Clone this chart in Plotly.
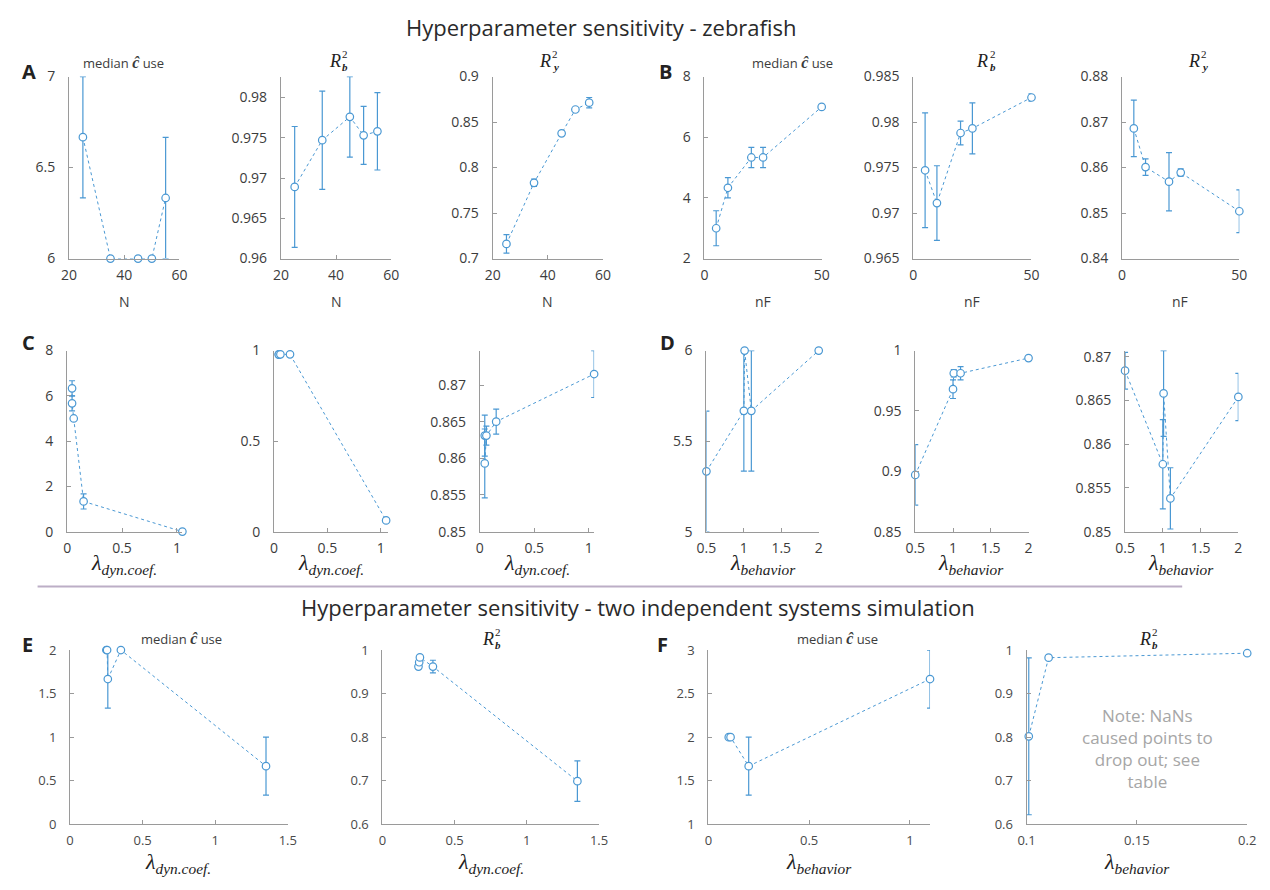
import plotly.graph_objects as go

W, H = 1270, 890
BLUE = "#4a98d3"
AXC = "#9a9a9a"
TXT = "#3c3c3c"
SANS = "Open Sans"
SERIF = "Liberation Serif"

# ---------------- zebrafish: N sweep ----------------
N = [25, 35, 45, 50, 55]
A_c = [6.667, 6.0, 6.0, 6.0, 6.333]
A_c_err = [0.333, 0.0, 0.0, 0.0, 0.333]
A_rb = [0.9689, 0.9747, 0.9776, 0.9753, 0.9758]
A_rb_err = [0.0075, 0.0061, 0.0050, 0.0036, 0.0048]
A_ry = [0.7161, 0.7832, 0.8376, 0.8638, 0.8713]
A_ry_err = [0.0102, 0.0040, 0.0020, 0.0015, 0.0057]

# ---------------- zebrafish: nF sweep ----------------
nF = [5, 10, 20, 25, 50]
B_c = [3.0, 4.333, 5.333, 5.333, 7.0]
B_c_err = [0.577, 0.333, 0.333, 0.333, 0.0]
B_rb = [0.9747, 0.9711, 0.9788, 0.9793, 0.9827]
B_rb_err = [0.0063, 0.0041, 0.0013, 0.0028, 0.0004]
B_ry = [0.8686, 0.8601, 0.8569, 0.8589, 0.8504]
B_ry_err = [0.0062, 0.0018, 0.0064, 0.0008, 0.0047]

# ---------------- zebrafish: lambda_dyn.coef sweep ----------------
lam_dyn = [0.045, 0.045, 0.06, 0.15, 1.05]
C_c = [6.333, 5.667, 5.0, 1.333, 0.0]
C_c_err = [0.333, 0.333, 0.0, 0.333, 0.0]
C_rb = [0.979, 0.978, 0.979, 0.979, 0.062]
C_rb_err = [0.003, 0.003, 0.003, 0.003, 0.003]
C_ry = [0.8631, 0.8593, 0.8631, 0.8650, 0.8715]
C_ry_err = [0.0028, 0.0047, 0.0013, 0.0017, 0.0032]

# ---------------- zebrafish: lambda_behavior sweep ----------------
lam_beh = [0.5, 1.0, 1.01, 1.1, 2.0]
D_c = [5.333, 5.667, 6.0, 5.667, 6.0]
D_c_err = [0.333, 0.333, 0.0, 0.333, 0.0]
D_rb = [0.897, 0.968, 0.9812, 0.9812, 0.9938]
D_rb_err = [0.025, 0.0077, 0.003, 0.0055, 0.0005]
D_ry = [0.8684, 0.8577, 0.8658, 0.8538, 0.8654]
D_ry_err = [0.0021, 0.0051, 0.0049, 0.0035, 0.0027]

# ---------------- simulation: lambda_dyn.coef sweep ----------------
lam_dyn_sim = [0.25, 0.255, 0.26, 0.35, 1.35]
E_c = [2.0, 2.0, 1.667, 2.0, 0.667]
E_c_err = [0.0, 0.0, 0.333, 0.0, 0.333]
E_rb = [0.962, 0.972, 0.983, 0.962, 0.699]
E_rb_err = [0.004, 0.004, 0.003, 0.0146, 0.0465]

# ---------------- simulation: lambda_behavior sweep ----------------
lam_beh_sim = [0.101, 0.11, 0.2, 1.1]
F_c = [2.0, 2.0, 1.667, 2.667]
F_c_err = [0.0, 0.0, 0.333, 0.333]
F_rb = [0.8018, 0.9824, 0.9927, None]
F_rb_err = [0.18, 0.003, 0.002, None]


def fmt(v):
    return ("%g" % v)


def frange(a, b, s):
    out, v = [], a
    while v <= b + 1e-9:
        out.append(round(v, 6))
        v += s
    return out


fig = go.Figure()
annotations = []


def ann(text, x, y, size, color=TXT, family=SANS, xanchor="center", yanchor="middle"):
    annotations.append(dict(text=text, x=x / W, y=1 - y / H, xref="paper", yref="paper",
                            showarrow=False, xanchor=xanchor, yanchor=yanchor,
                            font=dict(family=family, size=size, color=color)))


def panel(i, x, y, err, px, py, xr, xt, yr, yt, fs=14, tcol=TXT):
    xa = "x" if i == 1 else "x%d" % i
    ya = "y" if i == 1 else "y%d" % i
    fig.add_trace(go.Scatter(
        x=x, y=y, xaxis=xa, yaxis=ya, mode="lines+markers", cliponaxis=False,
        line=dict(color=BLUE, width=1, dash="dot"),
        marker=dict(symbol="circle", size=7.5, color="white", line=dict(color=BLUE, width=1.2)),
        error_y=dict(type="data", array=err, color=BLUE, thickness=1.2, width=3),
        connectgaps=False, showlegend=False, hoverinfo="x+y"))
    common = dict(showline=True, linecolor=AXC, linewidth=1, ticks="inside", ticklen=4,
                  tickcolor=AXC, showgrid=False, zeroline=False,
                  tickfont=dict(family=SANS, size=fs, color=tcol))
    fig.layout["xaxis%d" % i] = dict(domain=[px[0] / W, px[1] / W], range=xr, anchor=ya,
                                     tickvals=xt, ticktext=[fmt(v) for v in xt],
                                     ticklabelstandoff=4, **common)
    fig.layout["yaxis%d" % i] = dict(domain=[1 - py[1] / H, 1 - py[0] / H], range=yr, anchor=xa,
                                     tickvals=yt, ticktext=[fmt(v) for v in yt],
                                     ticklabelstandoff=10, **common)


rowA = (68, 254)
rowC = (348, 533)
rowE = (654, 832)

# row A / B
panel(1, N, A_c, A_c_err, (60, 172), rowA, [20, 60], [20, 40, 60], [6, 7], [6, 6.5, 7])
panel(2, N, A_rb, A_rb_err, (275, 387), rowA, [20, 60], [20, 40, 60], [0.96, 0.9826],
      frange(0.96, 0.98, 0.005))
panel(3, N, A_ry, A_ry_err, (490, 602), rowA, [20, 60], [20, 40, 60], [0.7, 0.9],
      frange(0.7, 0.9, 0.05))
panel(4, nF, B_c, B_c_err, (705, 824), rowA, [0, 50], [0, 50], [2, 8], [2, 4, 6, 8])
panel(5, nF, B_rb, B_rb_err, (917, 1037), rowA, [0, 50], [0, 50], [0.965, 0.985],
      frange(0.965, 0.985, 0.005))
panel(6, nF, B_ry, B_ry_err, (1129, 1248), rowA, [0, 50], [0, 50], [0.84, 0.88],
      frange(0.84, 0.88, 0.01))

# row C / D
panel(7, lam_dyn, C_c, C_c_err, (58, 175), rowC, [0, 1.05], [0, 0.5, 1], [0, 8], [0, 2, 4, 6, 8])
panel(8, lam_dyn, C_rb, C_rb_err, (268, 384), rowC, [0, 1.07], [0, 0.5, 1], [0, 1], [0, 0.5, 1])
panel(9, lam_dyn, C_ry, C_ry_err, (477, 593), rowC, [0, 1.05], [0, 0.5, 1], [0.85, 0.8747],
      frange(0.85, 0.87, 0.005))
panel(10, lam_beh, D_c, D_c_err, (707, 821), rowC, [0.5, 2], [0.5, 1, 1.5, 2], [5, 6], [5, 5.5, 6])
panel(11, lam_beh, D_rb, D_rb_err, (919, 1034), rowC, [0.5, 2], [0.5, 1, 1.5, 2], [0.85, 1],
      [0.85, 0.9, 0.95, 1])
panel(12, lam_beh, D_ry, D_ry_err, (1132, 1247), rowC, [0.5, 2], [0.5, 1, 1.5, 2], [0.85, 0.8707],
      frange(0.85, 0.87, 0.005))

# row E / F
ES = 13
EC = "#4a4a4a"
panel(13, lam_dyn_sim, E_c, E_c_err, (61, 282), rowE, [0, 1.5], [0, 0.5, 1, 1.5], [0, 2],
      frange(0, 2, 0.5), ES, EC)
panel(14, lam_dyn_sim, E_rb, E_rb_err, (378, 598), rowE, [0, 1.5], [0, 0.5, 1, 1.5], [0.6, 1],
      frange(0.6, 1, 0.1), ES, EC)
panel(15, lam_beh_sim, F_c, F_c_err, (709, 934), rowE, [0, 1.1], [0, 0.5, 1], [1, 3],
      frange(1, 3, 0.5), ES, EC)
panel(16, lam_beh_sim, F_rb, F_rb_err, (1032, 1256), rowE, [0.1, 0.2], [0.1, 0.15, 0.2], [0.6, 1],
      frange(0.6, 1, 0.1), ES, EC)

# section titles
ann("Hyperparameter sensitivity - zebrafish", 600, 17, 22, "#2a2a2a")
ann("Hyperparameter sensitivity - two independent systems simulation", 638, 610, 22, "#2a2a2a")

# panel letters
for letter, lx, ly in [("A", 19, 63), ("B", 665, 63), ("C", 19, 340), ("D", 667, 340),
                       ("E", 18, 648), ("F", 662, 648)]:
    ann("<b>%s</b>" % letter, lx, ly, 20, "#222222")

CHAT = "median <span style='font-family:%s;font-size:16px'><b><i>ĉ</i></b></span> use" % SERIF


def r2(xc, yc, sub):
    ann("<i>R</i>", xc - 5, yc, 18, "#222222", SERIF)
    ann("2", xc + 0.5, yc - 7, 11, "#222222", SERIF, xanchor="left")
    ann("<b><i>%s</i></b>" % sub, xc + 0.5, yc + 6, 11, "#222222", SERIF, xanchor="left")


# subplot titles
ann(CHAT, 115, 54, 13)
r2(335, 52, "b")
r2(548, 52, "y")
ann(CHAT, 794, 54, 13)
r2(992, 52, "b")
r2(1207, 52, "y")
ann(CHAT, 174, 643, 13)
r2(490, 643, "b")
ann(CHAT, 840, 643, 13)
r2(1157, 643, "b")

# axis labels
for xc in [116, 331, 546]:
    ann("N", xc, 298, 14)
for xc in [764, 977, 1188]:
    ann("nF", xc, 298, 14)
LDYN = "<i>λ</i><sub><i>dyn.coef.</i></sub>"
LBEH = "<i>λ</i><sub><i>behavior</i></sub>"
for xc in [116, 326, 535]:
    ann(LDYN, xc, 566, 22, "#222222", SERIF)
for xc in [764, 976, 1189]:
    ann(LBEH, xc, 566, 22, "#222222", SERIF)
ann(LDYN, 171, 872, 22, "#222222", SERIF)
ann(LDYN, 488, 872, 22, "#222222", SERIF)
ann(LBEH, 821, 872, 22, "#222222", SERIF)
ann(LBEH, 1144, 872, 22, "#222222", SERIF)

# note in last panel
ann("Note: NaNs<br>caused points to<br>drop out; see<br>table", 1155, 755, 17, "#a6a6a6")

fig.update_layout(
    width=W, height=H, margin=dict(l=0, r=0, t=0, b=0),
    paper_bgcolor="white", plot_bgcolor="white",
    annotations=annotations,
    shapes=[dict(type="line", xref="paper", yref="paper", x0=28 / W, x1=1190 / W,
                 y0=1 - 589 / H, y1=1 - 589 / H, line=dict(color="#bcaec6", width=2))],
)

fig.write_html("out.html")
